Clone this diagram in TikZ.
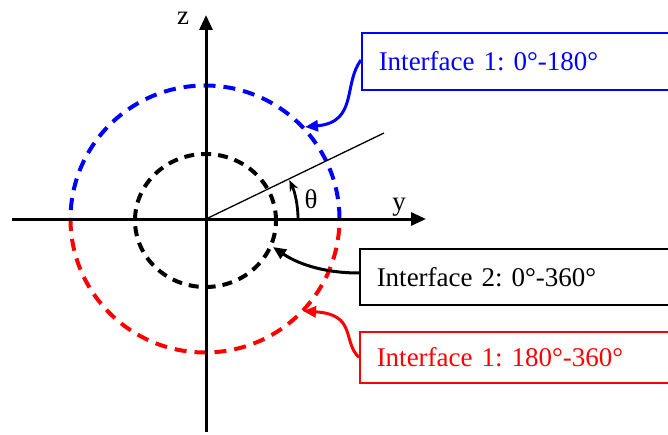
\documentclass[tikz,border=0pt]{standalone}
\usepackage{fontspec}
\setmainfont{Liberation Serif}
\usetikzlibrary{arrows.meta}
\begin{document}
\frenchspacing
\begin{tikzpicture}[x=1pt,y=1pt,
  axis/.style={line width=3pt, -{Triangle[length=15pt,width=13pt]}},
  lbl/.style={font=\fontsize{27}{30}\selectfont, inner sep=0pt},
  box/.style={anchor=west, line width=1.5pt, inner xsep=17pt, inner ysep=0pt, text width=330pt, align=left, minimum height=56pt, font=\fontsize{27}{30}\selectfont},
  conn/.style={line width=3pt, -{Triangle[length=13pt,width=11pt]}},
  circ/.style={line width=4pt, dash pattern=on 12pt off 8pt},
  innercirc/.style={line width=4pt, dash pattern=on 10pt off 7pt},
]
\useasboundingbox (0,0) rectangle (668,434);
\clip (0,0) rectangle (668,434);
% circles
\draw[circ, blue] (339.5,215) arc[start angle=0, end angle=180, x radius=134.5, y radius=133.5];
\draw[circ, red] (70.5,215) arc[start angle=180, end angle=360, x radius=134.5, y radius=133.5];
\draw[innercirc, black] (205.5,213.5) ellipse[x radius=70.5, y radius=66.5];
% axes
\coordinate (O) at (206,215);
\coordinate (yl) at (12,215);
\coordinate (yr) at (426,215);
\coordinate (zb) at (206,2);
\coordinate (zt) at (206,419);
\draw[axis] (yl) -- (yr);
\draw[axis] (zb) -- (zt);
\node[lbl] (ylab) at (399,227) {y};
\node[lbl] (zlab) at (183,416) {z};
% theta
\coordinate (T) at (384,301);
\draw[line width=1.3pt] (O) -- (T);
\draw[line width=2.8pt, -{Stealth[length=11pt,width=9pt]}] ([shift={(0:92)}]O) arc[start angle=0, end angle=25, radius=92];
\node[lbl] (th) at (311,235) {θ};
% boxes
\node[box, draw=blue, text=blue, minimum height=57pt] (b1) at (361,372.5) {Interface 1: 0°-180°};
\node[box, draw=black] (b2) at (359,157) {Interface 2: 0°-360°};
\node[box, draw=red, text=red, minimum height=51pt] (b3) at (359,76.5) {Interface 1: 180°-360°};
% connectors
\coordinate (t1) at (305,307);
\coordinate (t2) at (273,187);
\coordinate (t3) at (303,123);
\draw[conn, blue] ([yshift=1.5pt]b1.west) .. controls (343,350) and (358,312) .. (t1);
\draw[conn] ([yshift=4pt]b2.west) .. controls (320,161) and (295,172) .. (t2);
\draw[conn, red] (b3.west) .. controls (342,93) and (357,119.5) .. (t3);
\end{tikzpicture}
\end{document}
